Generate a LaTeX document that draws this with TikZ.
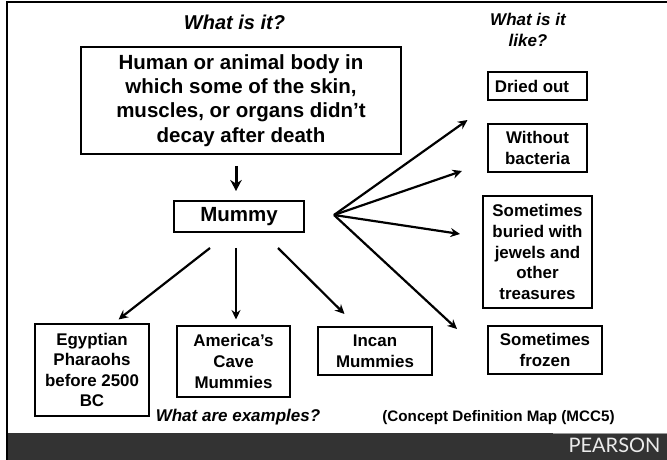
\documentclass[tikz,border=0pt]{standalone}
\usepackage{fontspec}
\newfontfamily\pearsonfont{Lato}
\setmainfont{Liberation Sans}[BoldFont={Liberation Sans Bold},BoldItalicFont={Liberation Sans Bold Italic}]
\definecolor{barcol}{HTML}{333333}
\definecolor{barline}{HTML}{999999}
\usetikzlibrary{arrows.meta}
\tikzset{
  every node/.style={inner sep=0pt, outer sep=0pt, align=center},
  bigbox/.style={draw=black, line width=2.4bp, font=\bfseries\fontsize{20.5bp}{24.4bp}\selectfont},
  smallbox/.style={draw=black, line width=2.4bp, font=\bfseries\fontsize{16.9bp}{20.6bp}\selectfont},
  question/.style={font=\bfseries\itshape\fontsize{17bp}{20bp}\selectfont},
  bigq/.style={font=\bfseries\itshape\fontsize{20bp}{22bp}\selectfont},
  smallq/.style={font=\bfseries\itshape\fontsize{17bp}{20.5bp}\selectfont},
  link/.style={draw=black, line width=2.2bp, -{Stealth[length=9.5bp,width=9bp]}},
  heavylink/.style={draw=black, line width=3bp, -{Stealth[length=11bp,width=11.5bp]}}
}
\begin{document}
\begin{tikzpicture}[x=1bp,y=-1bp]
\useasboundingbox (0,0) rectangle (667,460);
\fill[white] (0,0) rectangle (667,460);
\fill[barcol] (8,433) rectangle (667,460);
\draw[barline, line width=1bp] (553,433) -- (667,433);
\draw[black, line width=2.6bp] (7,460) -- (7,2) -- (667,2);
\node[text=white!92!black, font=\pearsonfont\fontsize{20bp}{22bp}\selectfont] (pearson) at (614.5,445) {PEARSON};

\node[bigq] (q1) at (234.5,22) {What is it?};
\node[smallq] (q2) at (528,30) {What is it\\like?};
\node[question] (q3) at (238,417) {What are examples?};
\node[font=\bfseries\fontsize{15.2bp}{16bp}\selectfont] (cite) at (498.5,418) {(Concept Definition Map (MCC5)};

\node[bigbox, minimum width=320bp, minimum height=107bp] (def) at (241,100.5) {Human or animal body in\\which some of the skin,\\muscles, or organs didn’t\\decay after death};
\node[bigbox, minimum width=130bp, minimum height=31bp] (mummy) at (239,216.5) {Mummy};

\node[smallbox, minimum width=114bp, minimum height=92bp] (egypt) at (92,370) {Egyptian\\Pharaohs\\before 2500\\BC};
\node[smallbox, minimum width=113bp, minimum height=71bp] (cave) at (233.5,361.5) {America’s\\Cave\\Mummies};
\node[smallbox, minimum width=114bp, minimum height=48bp] (incan) at (375,351) {Incan\\Mummies};

\node[smallbox, minimum width=99bp, minimum height=28bp] (dried) at (537.5,86) {Dried out\hspace{11bp}};
\node[smallbox, minimum width=99bp, minimum height=48bp] (bact) at (537.5,148) {Without\\bacteria};
\node[smallbox, minimum width=109bp, minimum height=112bp] (jewels) at (537.5,252) {Sometimes\\buried with\\jewels and\\other\\treasures};
\node[smallbox, minimum width=114bp, minimum height=48bp] (frozen) at (545,350) {Sometimes\\frozen};

\coordinate (defout) at (236,166);
\coordinate (mumin) at (236,191);
\coordinate (hub) at (334,215);
\coordinate (e1) at (467.5,120);
\coordinate (e2) at (462,171);
\coordinate (e3) at (460,234);
\coordinate (e4) at (457,329);
\coordinate (s1) at (210,248);
\coordinate (t1) at (118.5,319.5);
\coordinate (s2) at (236,248);
\coordinate (t2) at (236,319.5);
\coordinate (s3) at (278,248);
\coordinate (t3) at (344.5,314);

\draw[heavylink] (defout) -- (mumin);
\draw[link] (hub) -- (e1);
\draw[link] (hub) -- (e2);
\draw[link] (hub) -- (e3);
\draw[link] (hub) -- (e4);
\draw[link] (s1) -- (t1);
\draw[link] (s2) -- (t2);
\draw[link] (s3) -- (t3);
\end{tikzpicture}
\end{document}
